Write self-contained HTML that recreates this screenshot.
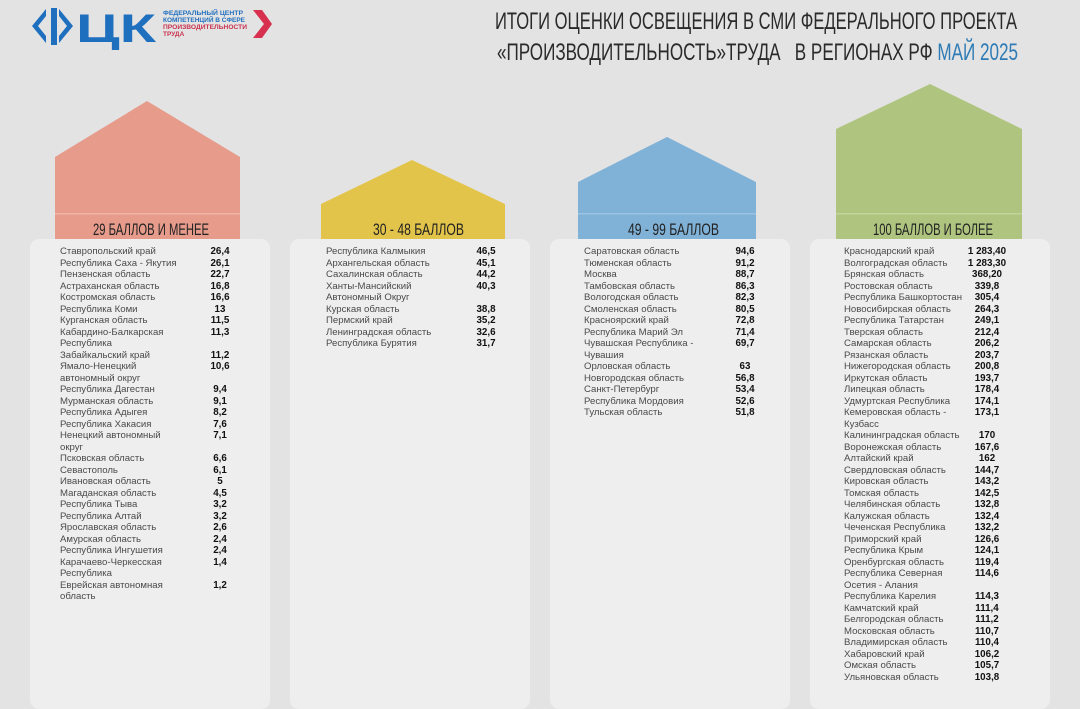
<!DOCTYPE html>
<html><head><meta charset="utf-8">
<style>
html,body{margin:0;padding:0;}
body{width:1080px;height:693px;background:#e3e3e3;position:relative;overflow:hidden;font-family:"Liberation Sans",sans-serif;}
.panel{position:absolute;top:239px;width:240px;height:470px;background:#eeeeee;border-radius:9px;}
.row{position:absolute;font-size:9.6px;line-height:11.5px;color:#4a4a4a;white-space:nowrap;}
.val{position:absolute;font-size:9.8px;line-height:11.5px;font-weight:bold;color:#111;white-space:nowrap;transform:translateX(-50%);}
</style></head>
<body>
<svg width="280" height="50" style="position:absolute;left:0;top:0">
  <polygon points="46,9 32,26 46,43 46,36 38,26 46,16" fill="#1f6fbf"/>
  <rect x="51" y="8" width="6" height="37" fill="#1f6fbf"/>
  <polygon points="59,9 73,26 59,43 59,36 67,26 59,16" fill="#1f6fbf"/>
  <text x="76" y="42" font-family="Liberation Sans" font-weight="bold" font-size="40" fill="#1f6fbf" textLength="80" lengthAdjust="spacingAndGlyphs">ЦК</text>
  <text x="163" y="15" font-family="Liberation Sans" font-weight="bold" font-size="6.5" fill="#1f6fbf" textLength="80" lengthAdjust="spacingAndGlyphs">ФЕДЕРАЛЬНЫЙ ЦЕНТР</text>
  <text x="163" y="22" font-family="Liberation Sans" font-weight="bold" font-size="6.5" fill="#1f6fbf" textLength="82" lengthAdjust="spacingAndGlyphs">КОМПЕТЕНЦИЙ В СФЕРЕ</text>
  <text x="163" y="29" font-family="Liberation Sans" font-weight="bold" font-size="6.5" fill="#c8324f" textLength="84" lengthAdjust="spacingAndGlyphs">ПРОИЗВОДИТЕЛЬНОСТИ</text>
  <text x="163" y="36" font-family="Liberation Sans" font-weight="bold" font-size="6.5" fill="#c8324f">ТРУДА</text>
  <polygon points="253,10 264,24 253,38 262,38 272,24 262,10" fill="#d7314f"/>
</svg>
<svg width="1080" height="70" style="position:absolute;left:0;top:0">
  <text x="495" y="29" font-family="Liberation Sans" font-size="24" fill="#2a2a2a" textLength="522" lengthAdjust="spacingAndGlyphs">ИТОГИ ОЦЕНКИ ОСВЕЩЕНИЯ В СМИ ФЕДЕРАЛЬНОГО ПРОЕКТА</text>
  <text x="497" y="60" font-family="Liberation Sans" font-size="24" fill="#2a2a2a" textLength="521" lengthAdjust="spacingAndGlyphs">«ПРОИЗВОДИТЕЛЬНОСТЬ»ТРУДА&#160;&#160;&#160;В РЕГИОНАХ РФ <tspan fill="#2e7bb5">МАЙ 2025</tspan></text>
</svg>

<svg width="1080" height="240" style="position:absolute;left:0;top:0">
  <polygon points="55,157 147,101 240,157 240,240 55,240" fill="#e69b8b"/>
  <rect x="55" y="213" width="185" height="1.5" fill="#f0b5a8"/>
  <polygon points="321,204 412,160 505,204 505,240 321,240" fill="#e3c44b"/>
  <polygon points="578,182 667,137 756,182 756,240 578,240" fill="#80b1d6"/>
  <rect x="578" y="213" width="178" height="1.5" fill="#9cc3e2"/>
  <polygon points="836,129 930,84 1022,129 1022,240 836,240" fill="#afc57f"/>
  <rect x="836" y="213" width="186" height="1.5" fill="#c2d49b"/>
  <text x="93" y="235" font-family="Liberation Sans" font-size="17" fill="#222" textLength="116" lengthAdjust="spacingAndGlyphs">29 БАЛЛОВ И МЕНЕЕ</text>
  <text x="373" y="235" font-family="Liberation Sans" font-size="17" fill="#222" textLength="91" lengthAdjust="spacingAndGlyphs">30 - 48 БАЛЛОВ</text>
  <text x="628" y="235" font-family="Liberation Sans" font-size="17" fill="#222" textLength="91" lengthAdjust="spacingAndGlyphs">49 - 99 БАЛЛОВ</text>
  <text x="873" y="235" font-family="Liberation Sans" font-size="17" fill="#222" textLength="120" lengthAdjust="spacingAndGlyphs">100 БАЛЛОВ И БОЛЕЕ</text>
</svg>

<div class="panel" style="left:30px"></div>
<div class="panel" style="left:290px"></div>
<div class="panel" style="left:550px"></div>
<div class="panel" style="left:810px"></div>
<div id="rows"></div>
<script>
const names1=["Ставропольский край","Республика Саха - Якутия","Пензенская область","Астраханская область","Костромская область","Республика Коми","Курганская область","Кабардино-Балкарская|Республика","Забайкальский край","Ямало-Ненецкий|автономный округ","Республика Дагестан","Мурманская область","Республика Адыгея","Республика Хакасия","Ненецкий автономный|округ","Псковская область","Севастополь","Ивановская область","Магаданская область","Республика Тыва","Республика Алтай","Ярославская область","Амурская область","Республика Ингушетия","Карачаево-Черкесская|Республика","Еврейская автономная|область"];
const values1=["26,4","26,1","22,7","16,8","16,6","13","11,5","11,3","11,2","10,6","9,4","9,1","8,2","7,6","7,1","6,6","6,1","5","4,5","3,2","3,2","2,6","2,4","2,4","1,4","1,2"];
const names2=["Республика Калмыкия","Архангельская область","Сахалинская область","Ханты-Мансийский|Автономный Округ","Курская область","Пермский край","Ленинградская область","Республика Бурятия"];
const values2=["46,5","45,1","44,2","40,3","38,8","35,2","32,6","31,7"];
const names3=["Саратовская область","Тюменская область","Москва","Тамбовская область","Вологодская область","Смоленская область","Красноярский край","Республика Марий Эл","Чувашская Республика -|Чувашия","Орловская область","Новгородская область","Санкт-Петербург","Республика Мордовия","Тульская область"];
const values3=["94,6","91,2","88,7","86,3","82,3","80,5","72,8","71,4","69,7","63","56,8","53,4","52,6","51,8"];
const names4=["Краснодарский край","Волгоградская область","Брянская область","Ростовская область","Республика Башкортостан","Новосибирская область","Республика Татарстан","Тверская область","Самарская область","Рязанская область","Нижегородская область","Иркутская область","Липецкая область","Удмуртская Республика","Кемеровская область -|Кузбасс","Калининградская область","Воронежская область","Алтайский край","Свердловская область","Кировская область","Томская область","Челябинская область","Калужская область","Чеченская Республика","Приморский край","Республика Крым","Оренбургская область","Республика Северная|Осетия - Алания","Республика Карелия","Камчатский край","Белгородская область","Московская область","Владимирская область","Хабаровский край","Омская область","Ульяновская область"];
const values4=["1 283,40","1 283,30","368,20","339,8","305,4","264,3","249,1","212,4","206,2","203,7","200,8","193,7","178,4","174,1","173,1","170","167,6","162","144,7","143,2","142,5","132,8","132,4","132,2","126,6","124,1","119,4","114,6","114,3","111,4","111,2","110,7","110,4","106,2","105,7","103,8"];
const cols=[{n:names1,v:values1,x:60,vx:220},{n:names2,v:values2,x:326,vx:486},{n:names3,v:values3,x:584,vx:745},{n:names4,v:values4,x:844,vx:987}];
const wrap=document.getElementById('rows');
const LH=11.5, TOP=246;
cols.forEach(c=>{
  let line=0;
  c.n.forEach((nm,i)=>{
    const parts=nm.split('|');
    const r=document.createElement('div');
    r.className='row';
    
    
    r.style.left=c.x+'px';r.style.top=(TOP+line*LH)+'px';
    r.innerHTML=parts.join('<br>');
    wrap.appendChild(r);
    const v=document.createElement('div');
    v.className='val';
    
    
    v.style.left=c.vx+'px';v.style.top=(TOP+line*LH)+'px';
    v.textContent=c.v[i];
    wrap.appendChild(v);
    line+=parts.length;
  });
});
</script>
</body></html>
